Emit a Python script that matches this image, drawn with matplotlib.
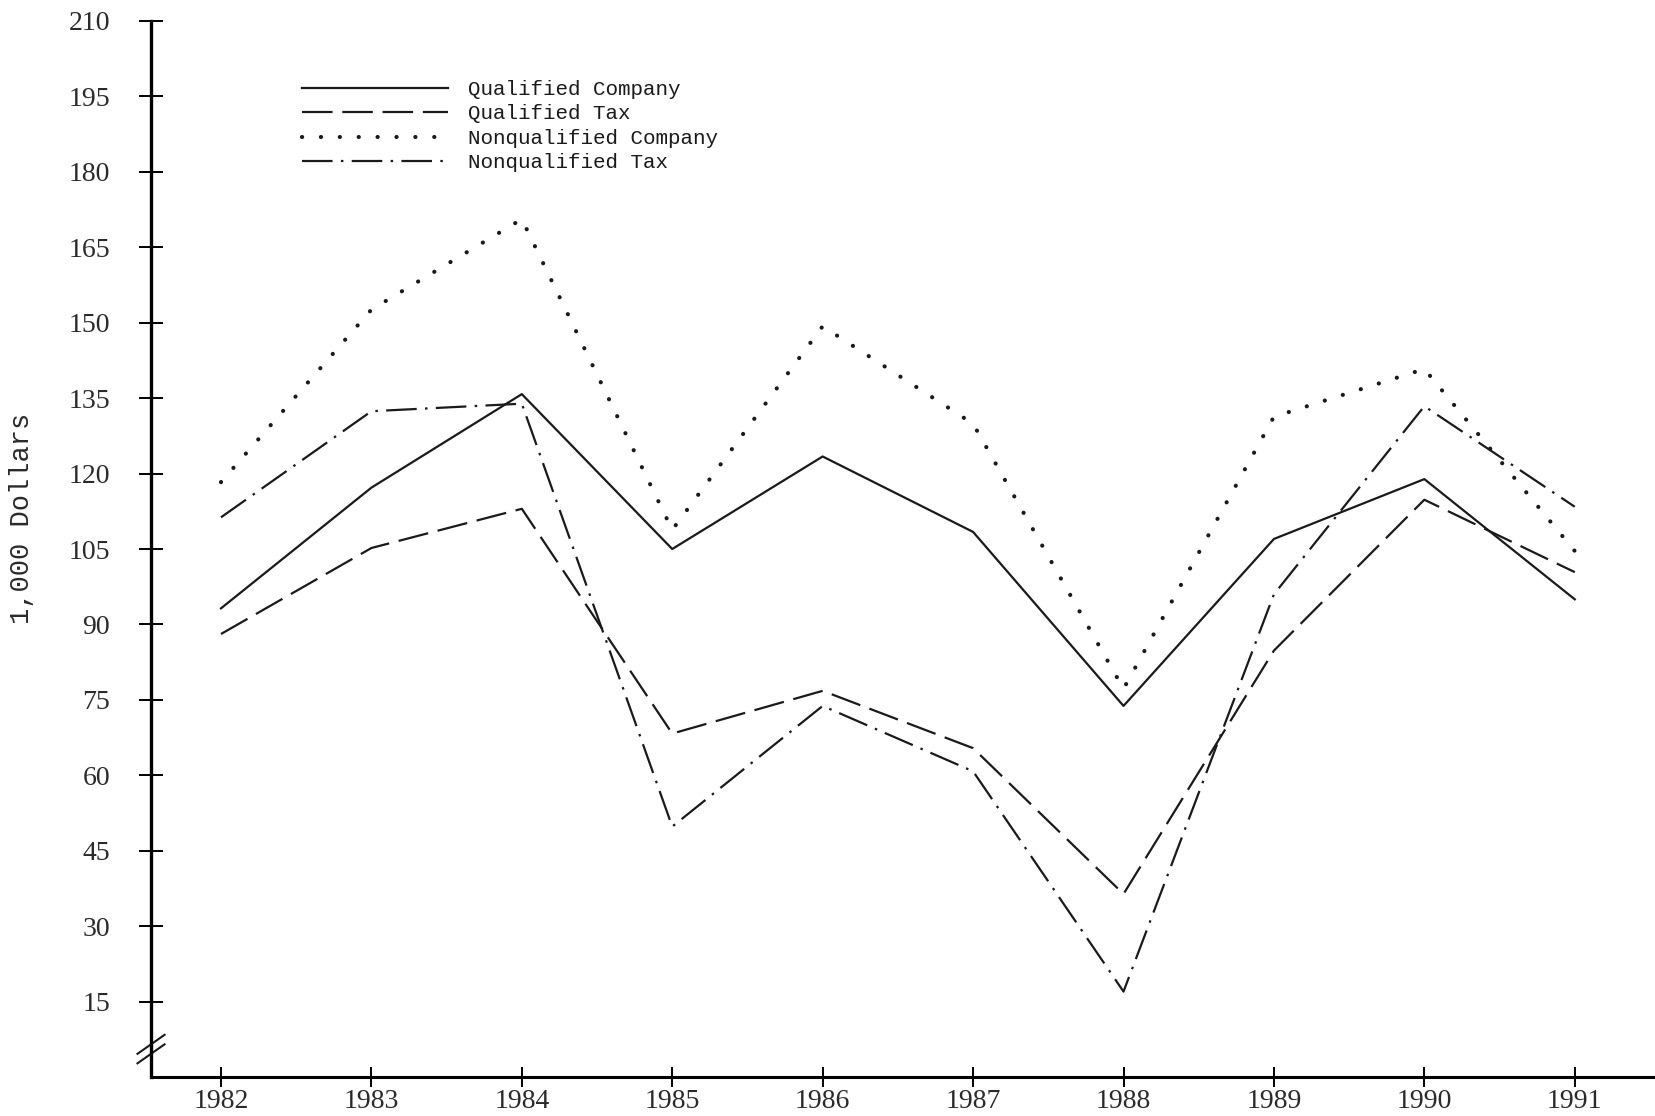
import matplotlib
matplotlib.use("Agg")
import matplotlib.pyplot as plt
from matplotlib.lines import Line2D

# Annual values, in thousands of dollars
years = [1982, 1983, 1984, 1985, 1986, 1987, 1988, 1989, 1990, 1991]
qualified_company = [93.2, 117.2, 135.8, 105.0, 123.4, 108.4, 73.8, 107.0, 118.9, 95.0]
qualified_tax = [88.1, 105.2, 113.0, 68.3, 76.8, 65.4, 36.4, 84.8, 114.8, 100.4]
nonqualified_company = [118.3, 152.6, 170.6, 108.8, 149.3, 129.9, 77.2, 131.3, 140.8, 104.6]
nonqualified_tax = [111.3, 132.4, 133.9, 49.8, 73.8, 60.8, 17.0, 96.0, 133.4, 113.4]

series_labels = ["Qualified Company", "Qualified Tax",
                 "Nonqualified Company", "Nonqualified Tax"]
y_ticks = [15, 30, 45, 60, 75, 90, 105, 120, 135, 150, 165, 180, 195, 210]

plt.rcParams["lines.scale_dashes"] = False

fig = plt.figure(figsize=(16.56, 11.16), dpi=100)
ax = fig.add_axes([0.0912, 0.0349, 0.9088, 0.9463])

ink = "#1a1a1a"
ax.plot(years, qualified_company, color=ink, lw=1.6, ls="-",
        label=series_labels[0])
ax.plot(years, qualified_tax, color=ink, lw=1.6, ls=(0, (22, 7)),
        label=series_labels[1])
ax.plot(years, nonqualified_company, color=ink, lw=3.0,
        ls=(0, (0.1, 13.5)), dash_capstyle="round", label=series_labels[2])
ax.plot(years, nonqualified_tax, color=ink, lw=1.6,
        ls=(0, (22, 6, 1.8, 6)), label=series_labels[3])

ax.set_xlim(1981.535, 1991.54)
ax.set_ylim(0, 210)

for side in ("top", "right"):
    ax.spines[side].set_visible(False)
ax.spines["left"].set_linewidth(2.4)
ax.spines["bottom"].set_linewidth(2.2)

ax.set_yticks(y_ticks)
ax.set_yticklabels([str(v) for v in y_ticks])
ax.set_xticks(years)
ax.set_xticklabels([str(y) for y in years])

for lab in ax.get_yticklabels() + ax.get_xticklabels():
    lab.set_fontfamily("Liberation Serif")
    lab.set_fontsize(20)
    lab.set_color("#2a2a2a")

ax.tick_params(axis="y", direction="inout", length=17, width=1.4, pad=21)
ax.tick_params(axis="x", direction="inout", length=15, width=1.4, pad=1)

ax.set_ylabel("1,000 Dollars", family="Liberation Mono", fontsize=19.5,
              color="#2a2a2a")
ax.yaxis.set_label_coords(-0.077, 0.529)

# axis break marks near the bottom of the value axis
for yb in (0.022, 0.031):
    ax.add_line(Line2D([-0.009, 0.009], [yb - 0.009, yb + 0.009],
                       transform=ax.transAxes, color=ink, lw=1.5,
                       clip_on=False))

leg = ax.legend(loc="upper left", bbox_to_anchor=(0.095, 0.952),
                frameon=False, handlelength=7.0, handletextpad=0.95,
                labelspacing=0.26, borderaxespad=0,
                prop=dict(family="Liberation Mono", size=15))
for t in leg.get_texts():
    t.set_color("#1a1a1a")

fig.savefig("out.png", dpi=100, facecolor="white")
